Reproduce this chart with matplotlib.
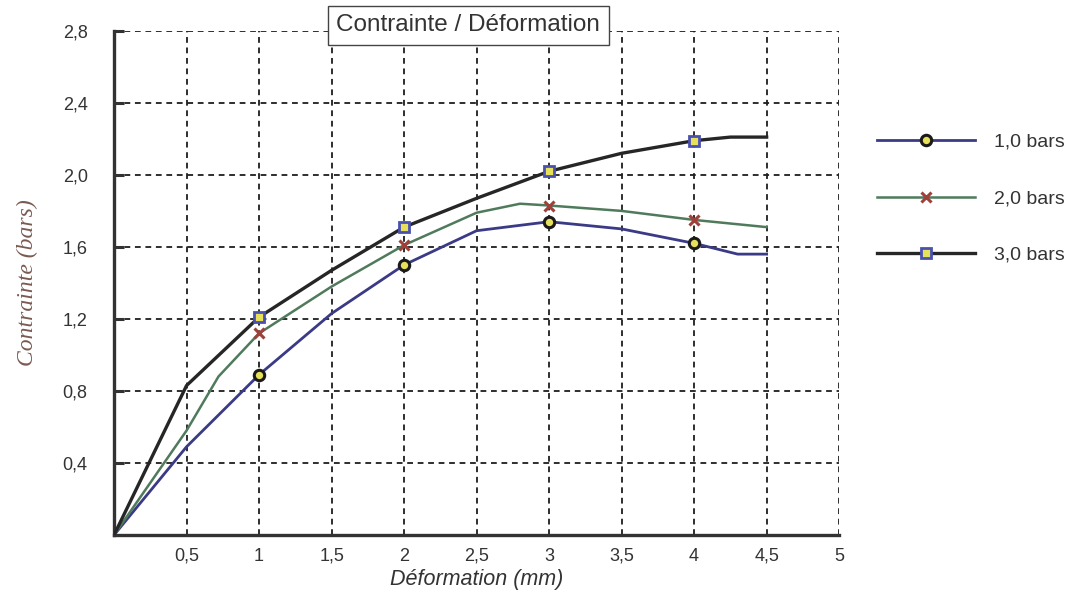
import matplotlib
matplotlib.use("Agg")
import matplotlib.pyplot as plt
from matplotlib.transforms import blended_transform_factory, offset_copy

# Stress / strain curves for three confining pressures
deformation_1 = [0.0, 0.5, 1.0, 1.5, 2.0, 2.5, 3.0, 3.5, 4.0, 4.3, 4.5]
contrainte_1 = [0.0, 0.49, 0.89, 1.23, 1.50, 1.69, 1.74, 1.70, 1.62, 1.56, 1.56]

deformation_2 = [0.0, 0.5, 0.72, 1.0, 1.5, 2.0, 2.5, 2.8, 3.0, 3.5, 4.0, 4.5]
contrainte_2 = [0.0, 0.58, 0.88, 1.12, 1.38, 1.61, 1.79, 1.84, 1.83, 1.80, 1.75, 1.71]

deformation_3 = [0.0, 0.5, 1.0, 1.5, 2.0, 2.5, 3.0, 3.5, 4.0, 4.25, 4.5]
contrainte_3 = [0.0, 0.83, 1.21, 1.47, 1.71, 1.87, 2.02, 2.12, 2.19, 2.21, 2.21]

# Measured points (markers)
mesure_x = [1, 2, 3, 4]
mesure_1 = [0.89, 1.50, 1.74, 1.62]
mesure_2 = [1.12, 1.61, 1.83, 1.75]
mesure_3 = [1.21, 1.71, 2.02, 2.19]

series_labels = ["1,0 bars", "2,0 bars", "3,0 bars"]
x_ticks = [0.5, 1, 1.5, 2, 2.5, 3, 3.5, 4, 4.5, 5]
x_tick_labels = ["0,5", "1", "1,5", "2", "2,5", "3", "3,5", "4", "4,5", "5"]
y_ticks = [0.4, 0.8, 1.2, 1.6, 2.0, 2.4, 2.8]
y_tick_labels = ["0,4", "0,8", "1,2", "1,6", "2,0", "2,4", "2,8"]

fig = plt.figure(figsize=(10.79, 6.03), dpi=100)
ax = fig.add_axes([0.1057, 0.1128, 0.672, 0.836])
ax.set_xlim(0, 5)
ax.set_ylim(0, 2.8)

# Dashed grid, including the top and right edges
for xv in x_ticks:
    ax.axvline(xv, color="#1e1e1e", lw=1.3, ls=(0, (3.2, 2.6)), zorder=1)
for yv in y_ticks:
    ax.axhline(yv, color="#1e1e1e", lw=1.3, ls=(0, (3.2, 2.6)), zorder=1)

for side in ("top", "right"):
    ax.spines[side].set_visible(False)
for side in ("left", "bottom"):
    ax.spines[side].set_linewidth(2.4)
    ax.spines[side].set_color("#333333")

c1, c2, c3 = "#3a3a86", "#4f7a5c", "#262626"
ax.plot(deformation_1, contrainte_1, color=c1, lw=2.0, zorder=3)
ax.plot(deformation_2, contrainte_2, color=c2, lw=1.8, zorder=3)
ax.plot(deformation_3, contrainte_3, color=c3, lw=2.4, zorder=3)

ax.plot(mesure_x, mesure_1, ls="none", marker="o", ms=7.5, mfc="#e6e05a",
        mec="#1a1a1a", mew=2.2, zorder=4)
ax.plot(mesure_x, mesure_2, ls="none", marker="x", ms=7.5, mec="#a0403a",
        mew=2.2, zorder=4)
ax.plot(mesure_x, mesure_3, ls="none", marker="s", ms=7.5, mfc="#e6e05a",
        mec="#4a50b0", mew=2.0, zorder=4)

# x tick labels sit on a common baseline below the axis
ax.set_xticks(x_ticks)
ax.set_xticklabels([])
ax.tick_params(axis="x", direction="in", length=0)
xlab_trans = offset_copy(blended_transform_factory(ax.transData, ax.transAxes),
                         fig=fig, x=0, y=-26, units="dots")
for xv, txt in zip(x_ticks, x_tick_labels):
    ax.text(xv, 0, txt, transform=xlab_trans, ha="center", va="baseline",
            family="Liberation Sans", fontsize=13, color="#333333", clip_on=False)

ax.set_yticks(y_ticks)
ax.set_yticklabels(y_tick_labels)
ax.tick_params(axis="y", direction="in", length=7, width=2.2, color="#333333",
               pad=19, labelsize=13, labelcolor="#333333")
for lbl in ax.get_yticklabels():
    lbl.set_family("Liberation Sans")

ax.text(0.5, 0, "Déformation (mm)", transform=offset_copy(ax.transAxes, fig=fig,
        x=0, y=-50, units="dots"), ha="center", va="baseline",
        family="Liberation Sans", style="italic", fontsize=15.5, color="#333333")
ax.set_ylabel("Contrainte (bars)", family="Liberation Serif", style="italic",
              fontsize=17, color="#7a5a52", labelpad=18)

ax.text(0.4885, 1.0115, "Contrainte / Déformation", transform=ax.transAxes,
        ha="center", va="center", family="Liberation Sans", fontsize=17.5,
        color="#333333", zorder=6,
        bbox=dict(boxstyle="square,pad=0.35", fc="white", ec="#444444", lw=1.0))

# Legend drawn at the right of the plot
handles = [
    plt.Line2D([], [], color=c1, lw=2.0, marker="o", ms=7.5, mfc="#e6e05a",
               mec="#1a1a1a", mew=2.2),
    plt.Line2D([], [], color=c2, lw=1.8, marker="x", ms=7.5, mec="#a0403a", mew=2.2),
    plt.Line2D([], [], color=c3, lw=2.4, marker="s", ms=7.5, mfc="#e6e05a",
               mec="#4a50b0", mew=2.0),
]
leg = fig.legend(handles, series_labels, loc="upper left",
                 bbox_to_anchor=(0.797, 0.808), frameon=False, handlelength=5.0,
                 handletextpad=1.0, labelspacing=2.0, borderpad=0.4,
                 prop={"family": "Liberation Sans", "size": 14})
for t in leg.get_texts():
    t.set_color("#333333")

fig.savefig("out.png", dpi=100, facecolor="white")
